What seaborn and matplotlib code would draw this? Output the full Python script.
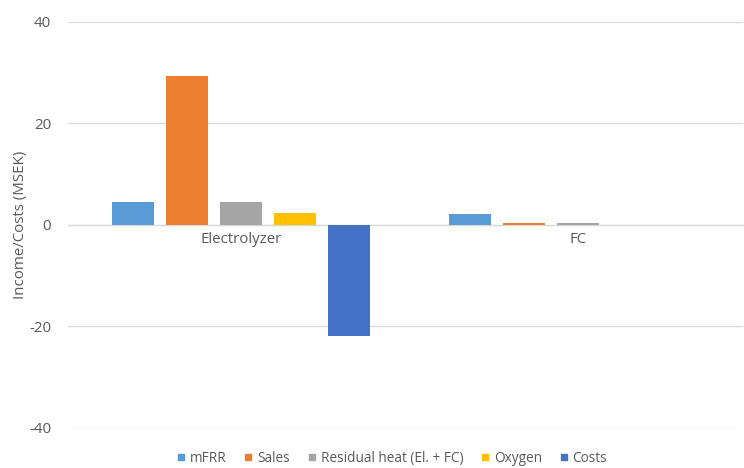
import matplotlib
matplotlib.use("Agg")
import matplotlib.pyplot as plt
from matplotlib.lines import Line2D
import seaborn as sns
import pandas as pd

categories = ["Electrolyzer", "FC"]
series = ["mFRR", "Sales", "Residual heat (El. + FC)", "Oxygen", "Costs"]
electrolyzer_values = [4.6, 29.4, 4.6, 2.3, -21.9]
fc_values = [2.1, 0.4, 0.35, 0.0, -0.05]
colors = ["#5B9BD5", "#ED7D31", "#A5A5A5", "#FFC000", "#4472C4"]
y_ticks = [-40, -20, 0, 20, 40]

rows = []
for cat, vals in zip(categories, [electrolyzer_values, fc_values]):
    for s, v in zip(series, vals):
        rows.append({"category": cat, "series": s, "value": v})
df = pd.DataFrame(rows)

sns.set_theme(style="white")
plt.rcParams["font.family"] = ["Open Sans", "DejaVu Sans"]
plt.rcParams["axes.unicode_minus"] = False
text_color = "#595959"
grid_color = "#D9D9D9"
fs = 10.8

fig = plt.figure(figsize=(7.44, 4.68), dpi=100)
ax = fig.add_axes([0.0914, 0.0855, 0.9072, 0.8675])

sns.barplot(data=df, x="category", y="value", hue="series", hue_order=series,
            palette=colors, width=0.8, gap=0.22, ax=ax, legend=False,
            saturation=1, errorbar=None, linewidth=0, edgecolor="none")

ax.set_xlim(-0.512, 1.488)
ax.set_ylim(-40, 40)
ax.set_yticks(y_ticks)
ax.yaxis.grid(True, color=grid_color, linewidth=0.9)
ax.set_axisbelow(True)
for side in ["left", "right", "top"]:
    ax.spines[side].set_visible(False)
ax.spines["bottom"].set_position(("data", 0))
ax.spines["bottom"].set_color(grid_color)
ax.spines["bottom"].set_linewidth(0.9)
ax.spines["bottom"].set_zorder(0.5)
ax.tick_params(axis="both", length=0, colors=text_color, labelsize=fs)
ax.tick_params(axis="x", pad=5)
ax.tick_params(axis="y", pad=12)
ax.set_xlabel("")
ax.set_ylabel("Income/Costs (MSEK)", color=text_color, fontsize=fs)
ax.yaxis.set_label_coords(-0.059, 0.5)

handles = [Line2D([0], [0], marker="s", linestyle="none", markersize=4.4,
                  markerfacecolor=c, markeredgecolor=c) for c in colors]
fig.legend(handles, series, loc="lower center", ncol=5, frameon=False,
           bbox_to_anchor=(0.527, -0.021), fontsize=9.8, labelcolor=text_color,
           handlelength=0.6, handletextpad=0.35, columnspacing=1.3)

fig.savefig("out.png", dpi=100, facecolor="white")
